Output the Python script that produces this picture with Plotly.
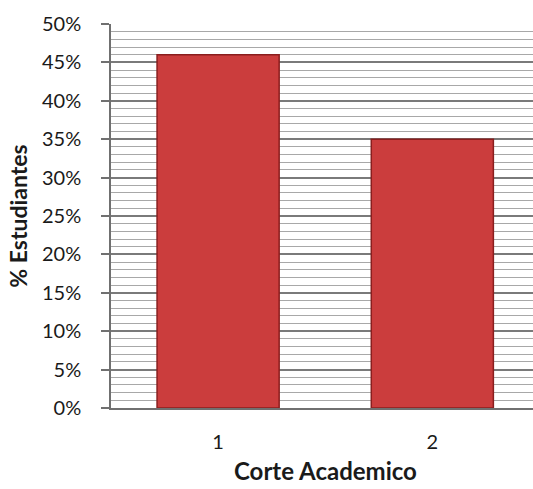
import plotly.graph_objects as go

categories = ["1", "2"]
values = [0.46, 0.35]
y_ticks = [0, 0.05, 0.10, 0.15, 0.20, 0.25, 0.30, 0.35, 0.40, 0.45, 0.50]
y_labels = ["0%", "5%", "10%", "15%", "20%", "25%", "30%", "35%", "40%", "45%", "50%"]

FONT = "Lato"

fig = go.Figure()
fig.add_trace(go.Bar(
    x=[0, 1], y=values,
    marker=dict(color="#cb3d3d", line=dict(color="#8a1e1e", width=1.5)),
    width=0.57,
))

fig.update_layout(
    width=533, height=489,
    margin=dict(l=111, r=0, t=24, b=81),
    paper_bgcolor="white", plot_bgcolor="white",
    showlegend=False,
    font=dict(family=FONT, color="#1a1a1a", size=20),
    xaxis=dict(
        range=[-0.5, 1.47],
        tickvals=[0, 1], ticktext=categories,
        showgrid=False, zeroline=False,
        showline=True, linecolor="#707070", linewidth=1.5,
        ticks="", ticklabelstandoff=15,
        tickfont=dict(size=20, family=FONT),
        automargin=False,
    ),
    yaxis=dict(
        range=[0, 0.5],
        tickvals=y_ticks, ticktext=y_labels,
        showgrid=True, gridcolor="#7a7a7a", gridwidth=1.5,
        zeroline=False,
        showline=True, linecolor="#707070", linewidth=1.5,
        ticks="outside", ticklen=8, tickcolor="#707070", tickwidth=1.5,
        ticklabelstandoff=16,
        tickfont=dict(size=20, family=FONT),
        automargin=False,
        minor=dict(dtick=0.01, showgrid=True, gridcolor="#a8a8a8", gridwidth=1),
        title=dict(text="<b>% Estudiantes</b>", font=dict(size=23, family=FONT), standoff=8),
    ),
    annotations=[dict(
        text="<b>Corte Academico</b>", xref="x", yref="paper",
        x=0.5, y=-0.163, xanchor="center", yanchor="middle",
        showarrow=False, font=dict(size=24, family=FONT, color="#1a1a1a"),
    )],
)

fig.write_html("out.html")
